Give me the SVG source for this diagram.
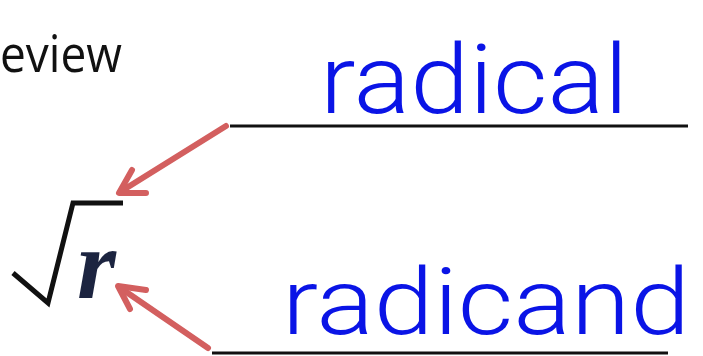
<svg xmlns="http://www.w3.org/2000/svg" width="703" height="356" viewBox="0 0 703 356">
<style>
.hw{fill:#0a14e6;font-family:"Roboto","Liberation Sans",sans-serif;font-weight:300;}
.rule{stroke:#111;stroke-width:3;fill:none;}
.arr{stroke:#d35f5f;stroke-width:6;fill:none;stroke-linecap:round;stroke-linejoin:round;}
</style>
<rect width="703" height="356" fill="#fff"/>
<g id="title">
<text x="0" y="72" font-family="'Open Sans','Liberation Sans',sans-serif" font-size="52" fill="#111" textLength="122" lengthAdjust="spacingAndGlyphs">eview</text>
</g>
<g id="root">
<polyline points="13,273 48,303 73,203 123,203" fill="none" stroke="#111" stroke-width="5" stroke-linejoin="miter"/>
<text x="77" y="298" font-family="'Liberation Serif',serif" font-style="italic" font-weight="bold" font-size="100" fill="#1c2440">r</text>
</g>
<g id="radical">
<line class="rule" x1="230" y1="126" x2="688" y2="126"/>
<text class="hw" x="320" y="113" font-size="96" textLength="308" lengthAdjust="spacingAndGlyphs">radical</text>
</g>
<g id="radicand">
<line class="rule" x1="212" y1="353" x2="668" y2="353"/>
<text class="hw" x="282" y="334" font-size="92" textLength="408" lengthAdjust="spacingAndGlyphs">radicand</text>
</g>
<g id="connectors">
<line class="arr" x1="226" y1="126" x2="120" y2="192"/>
<polyline class="arr" points="132,170 119,193 146,193"/>
<line class="arr" x1="208" y1="348" x2="119" y2="287"/>
<polyline class="arr" points="146,290 118,286 130,309"/>
</g>
</svg>
